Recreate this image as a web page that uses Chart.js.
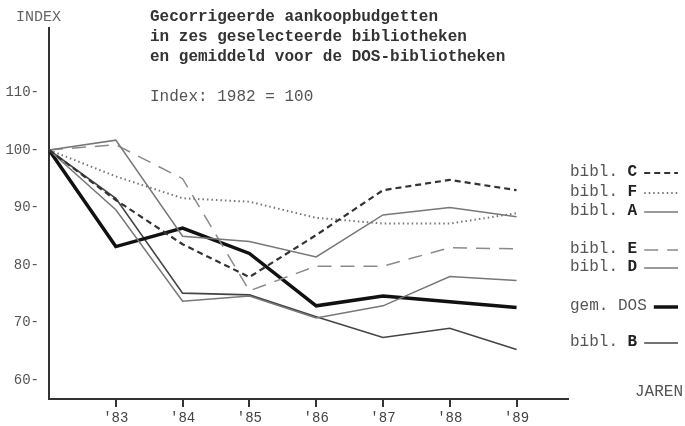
<!DOCTYPE html>
<html>
<head>
<meta charset="utf-8">
<script src="https://cdn.jsdelivr.net/npm/chart.js@4/dist/chart.umd.min.js"></script>
<style>
  html, body { margin: 0; padding: 0; background: #fff; }
</style>
</head>
<body>
<canvas id="myChart" width="685" height="426"></canvas>
<script>
//---------------------------
// DATA
//---------------------------
const years = [1982, 1983, 1984, 1985, 1986, 1987, 1988, 1989];
const xTicks = [1983, 1984, 1985, 1986, 1987, 1988, 1989];
const yTicks = [60, 70, 80, 90, 100, 110];

const biblC = [100, 91.3, 83.6, 77.9, 85.2, 93.0, 94.8, 93.0];
const biblF = [100, 95.4, 91.6, 91.0, 88.2, 87.2, 87.2, 89.0];
const biblA = [100, 101.7, 85.0, 84.1, 81.4, 88.7, 90.0, 88.4];
const biblE = [100, 100.9, 95.0, 75.5, 79.8, 79.8, 83.0, 82.8];
const biblD = [100, 89.6, 73.7, 74.6, 70.8, 72.9, 78.0, 77.3];
const gemDOS = [100, 83.2, 86.4, 82.0, 72.9, 74.6, 73.6, 72.6];
const biblB = [100, 91.6, 75.1, 74.8, 71.0, 67.4, 69.0, 65.3];

const titleLines = [
    'Gecorrigeerde aankoopbudgetten',
    'in zes geselecteerde bibliotheken',
    'en gemiddeld voor de DOS-bibliotheken'
];
const subTitle = 'Index: 1982 = 100';
const yAxisTitle = 'INDEX';
const xAxisTitle = 'JAREN';

const mono = '"Liberation Mono", "DejaVu Sans Mono", monospace';

function pts(values) {
    return values.map((v, i) => ({ x: years[i], y: v }));
}

// style per series, also used for the legend samples
const series = [
    { prefix: 'bibl. ', key: 'C', data: biblC, color: '#333', width: 2.2, dash: [6, 4], ly: 172 },
    { prefix: 'bibl. ', key: 'F', data: biblF, color: '#777', width: 2, dash: [1.5, 3], ly: 192 },
    { prefix: 'bibl. ', key: 'A', data: biblA, color: '#777', width: 1.5, dash: [], ly: 211 },
    { prefix: 'bibl. ', key: 'E', data: biblE, color: '#8a8a8a', width: 1.5, dash: [14, 9], ly: 249 },
    { prefix: 'bibl. ', key: 'D', data: biblD, color: '#777', width: 1.5, dash: [], ly: 267 },
    { prefix: 'gem. ', key: 'DOS', data: gemDOS, color: '#111', width: 3.5, dash: [], ly: 306, plainKey: true },
    { prefix: 'bibl. ', key: 'B', data: biblB, color: '#444', width: 1.6, dash: [], ly: 342 }
];

//---------------------------
// TEXTS AND LEGEND
//---------------------------
const textPlugin = {
    id: 'texts',
    afterDraw(chart) {
        const c = chart.ctx;
        c.save();
        c.textBaseline = 'middle';
        c.textAlign = 'left';

        c.fillStyle = '#666';
        c.font = '15px ' + mono;
        c.fillText(yAxisTitle, 16, 17);

        c.fillStyle = '#333';
        c.font = 'bold 16px ' + mono;
        titleLines.forEach((t, i) => c.fillText(t, 150, 17 + i * 20));

        c.fillStyle = '#555';
        c.font = '16px ' + mono;
        c.fillText(subTitle, 150, 97);
        c.fillText(xAxisTitle, 635, 392);

        series.forEach(s => {
            let x = 570;
            c.fillStyle = '#555';
            c.font = '16px ' + mono;
            c.fillText(s.prefix, x, s.ly);
            x += c.measureText(s.prefix).width;
            c.fillStyle = s.plainKey ? '#555' : '#222';
            c.font = (s.plainKey ? '' : 'bold ') + '16px ' + mono;
            c.fillText(s.key, x, s.ly);
            x += c.measureText(s.key).width + 7;
            c.beginPath();
            c.strokeStyle = s.color;
            c.lineWidth = s.width;
            c.setLineDash(s.dash);
            c.moveTo(x, s.ly + 1);
            c.lineTo(678, s.ly + 1);
            c.stroke();
        });
        c.restore();
    }
};

//---------------------------
// CHART
//---------------------------
const ctx = document.getElementById('myChart');

new Chart(ctx, {
    type: 'line',
    data: {
        datasets: series.map(s => ({
            label: s.prefix + s.key,
            data: pts(s.data),
            borderColor: s.color,
            borderWidth: s.width,
            borderDash: s.dash,
            pointRadius: 0,
            fill: false,
            tension: 0
        }))
    },
    options: {
        responsive: false,
        animation: false,
        devicePixelRatio: 1,
        layout: { padding: { top: 28, right: 117, left: 0, bottom: 0 } },
        plugins: {
            legend: { display: false },
            tooltip: { enabled: false }
        },
        scales: {
            x: {
                type: 'linear',
                min: 1982,
                max: 1989.77,
                afterBuildTicks: s => { s.ticks = xTicks.map(v => ({ value: v })); },
                afterFit: s => { s.height = 27; },
                ticks: {
                    callback: v => "'" + String(v).slice(2),
                    font: { family: mono, size: 14 },
                    color: '#444',
                    padding: 3,
                    maxRotation: 0,
                    autoSkip: false
                },
                grid: {
                    drawOnChartArea: false,
                    drawTicks: true,
                    tickLength: 8,
                    color: '#333',
                    lineWidth: 2
                },
                border: { display: true, color: '#333', width: 2 }
            },
            y: {
                min: 56.7,
                max: 121.2,
                afterBuildTicks: s => { s.ticks = yTicks.map(v => ({ value: v })); },
                afterFit: s => { s.width = 49; },
                ticks: {
                    callback: v => v + '-',
                    font: { family: mono, size: 14 },
                    color: '#555',
                    padding: 10
                },
                grid: { display: false, drawTicks: false },
                border: { display: true, color: '#333', width: 2 }
            }
        }
    },
    plugins: [textPlugin]
});
</script>
</body>
</html>
